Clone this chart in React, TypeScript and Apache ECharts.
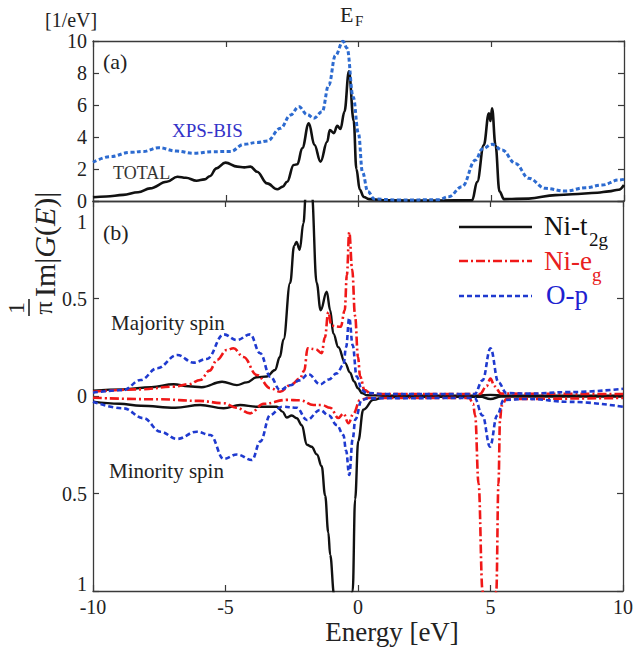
import React, { useEffect, useRef } from "react";
import * as echarts from "echarts";

const FONT = "Liberation Serif";

// Energy ticks
const xTicks = [-10, -5, 0, 5, 10];

// (a) total DOS and XPS-BIS  [E (eV), DOS (1/eV)]
const totalDos = [
  [-10, 0.23], [-9.5, 0.28], [-8.86, 0.38], [-8.3, 0.55], [-7.85, 0.79], [-7.22, 1.2], [-6.82, 1.52],
  [-6.5, 1.45], [-6.1, 1.27], [-5.8, 1.35], [-5.6, 1.55], [-5.35, 2.04], [-5.01, 2.4], [-4.57, 2.15],
  [-4.3, 2.1], [-4.07, 2.15], [-3.82, 1.83], [-3.44, 1.1], [-3.06, 0.73], [-2.85, 0.9], [-2.69, 1.2],
  [-2.44, 2.25], [-2.3, 2.3], [-2.12, 3.3], [-1.87, 4.86], [-1.66, 3.5], [-1.43, 2.46], [-1.18, 3.7],
  [-1.08, 4.44], [-0.93, 4.24], [-0.8, 4.7], [-0.68, 4.5], [-0.53, 5.58], [-0.36, 8.1], [-0.18, 5.0],
  [-0.08, 2.0], [0.05, 0.7], [0.2, 0.25], [0.39, 0.12], [1.1, 0.04], [3.0, 0.03], [4.28, 0.05],
  [4.47, 1.2], [4.72, 3.5], [4.91, 5.48], [4.97, 5.0], [5.03, 5.8], [5.16, 3.5], [5.31, 0.6],
  [5.48, 0.12], [6.41, 0.15], [7.42, 0.37], [8.05, 0.42], [9.0, 0.52], [9.43, 0.6], [9.8, 0.7], [10, 1.0],
];
const xpsBis = [
  [-10, 2.42], [-9.36, 2.77], [-8.6, 3.04], [-8.1, 3.1], [-7.54, 3.33], [-6.85, 3.12], [-6.2, 2.98],
  [-5.5, 3.08], [-4.82, 3.1], [-4.32, 3.54], [-3.82, 3.66], [-3.44, 3.75], [-2.94, 4.54], [-2.56, 5.37],
  [-2.25, 5.9], [-1.93, 5.4], [-1.68, 5.17], [-1.37, 5.58], [-1.12, 7.25], [-0.87, 9.1], [-0.58, 9.98],
  [-0.43, 9.54], [-0.2, 6.5], [0.0, 4.2], [0.15, 1.8], [0.35, 0.6], [0.6, 0.12], [1.5, 0.06],
  [3.02, 0.08], [3.4, 0.27], [3.9, 0.9], [4.41, 2.56], [4.66, 3.25], [5.03, 3.54], [5.41, 3.19],
  [5.91, 2.35], [6.41, 1.42], [7.04, 0.79], [7.8, 0.62], [8.55, 0.83], [9.18, 1.0], [9.8, 1.31], [10, 1.35],
];

// (b) partial DOS, majority (+) and minority (-) spin  [E, (1/pi) Im G(E)]
const t2gUp = [
  [-10, 0.027], [-8.86, 0.034], [-7.8, 0.045], [-6.96, 0.06], [-6.4, 0.05], [-5.9, 0.045], [-5.13, 0.073],
  [-4.57, 0.056], [-4.2, 0.07], [-3.82, 0.096], [-3.44, 0.1], [-3.13, 0.133], [-2.95, 0.2], [-2.81, 0.29],
  [-2.56, 0.58], [-2.41, 0.77], [-2.32, 0.79], [-2.2, 0.75], [-2.06, 0.886], [-1.96, 1.05], [-1.85, 1.25],
  [-1.75, 1.05], [-1.56, 0.58], [-1.41, 0.44], [-1.18, 0.535], [-1.05, 0.44], [-0.93, 0.32], [-0.74, 0.25],
  [-0.49, 0.17], [-0.3, 0.12], [-0.15, 0.075], [0.0, 0.04], [0.15, 0.015], [0.33, 0.004], [1, 0.002],
  [4.5, 0.002], [5.0, 0.006], [5.5, 0.002], [10, 0.002],
];
const t2gDown = [
  [-10, -0.029], [-9, -0.04], [-8.2, -0.05], [-6.9, -0.06], [-5.95, -0.046], [-5.07, -0.063], [-4.45, -0.046],
  [-3.82, -0.055], [-3.06, -0.055], [-2.85, -0.08], [-2.69, -0.11], [-2.5, -0.1], [-2.31, -0.114],
  [-2.12, -0.15], [-1.93, -0.25], [-1.75, -0.26], [-1.55, -0.3], [-1.37, -0.36], [-1.24, -0.51],
  [-1.12, -0.7], [-1.05, -0.815], [-0.9, -1.02], [-0.7, -1.3], [-0.45, -1.3], [-0.2, -1.0], [-0.11, -0.53],
  [0.01, -0.23], [0.2, -0.07], [0.58, -0.02], [1, -0.005], [4.6, -0.003], [5.0, -0.015], [5.4, -0.003], [10, -0.003],
];
const egUp = [
  [-10, 0.022], [-8.2, 0.034], [-6.96, 0.048], [-6.4, 0.06], [-5.95, 0.082], [-5.6, 0.13], [-5.32, 0.185],
  [-4.95, 0.236], [-4.7, 0.245], [-4.32, 0.2], [-3.82, 0.108], [-3.31, 0.04], [-2.94, 0.022], [-2.5, 0.06],
  [-2.19, 0.09], [-2.03, 0.13], [-1.9, 0.245], [-1.6, 0.24], [-1.37, 0.22], [-1.25, 0.3], [-1.12, 0.43],
  [-1.0, 0.36], [-0.65, 0.355], [-0.5, 0.44], [-0.42, 0.62], [-0.33, 0.84], [-0.22, 0.65], [-0.11, 0.41],
  [0.0, 0.2], [0.08, 0.1], [0.25, 0.03], [0.5, 0.012], [1, 0.01], [4.6, 0.01], [4.85, 0.05], [5.0, 0.09],
  [5.15, 0.05], [5.4, 0.012], [10, 0.01],
];
const egDown = [
  [-10, -0.009], [-7.5, -0.017], [-6, -0.025], [-5.07, -0.037], [-4.6, -0.06], [-4.07, -0.089], [-3.56, -0.04],
  [-2.69, -0.02], [-2.19, -0.022], [-1.68, -0.046], [-1.37, -0.046], [-1.05, -0.06], [-0.74, -0.113],
  [-0.55, -0.09], [-0.36, -0.14], [-0.17, -0.09], [0.08, -0.02], [0.4, -0.01], [4.2, -0.01], [4.34, -0.04],
  [4.42, -0.1], [4.55, -0.45], [4.7, -1.0], [4.85, -1.6], [5.05, -1.6], [5.22, -1.0], [5.3, -0.45],
  [5.36, -0.12], [5.42, -0.05], [5.6, -0.015], [10, -0.01],
];
const opUp = [
  [-10, 0.017], [-8.86, 0.03], [-8.2, 0.082], [-7.58, 0.142], [-6.82, 0.21], [-6.2, 0.171], [-5.7, 0.19],
  [-5.07, 0.316], [-4.57, 0.287], [-4.07, 0.316], [-3.69, 0.219], [-3.31, 0.099], [-2.94, 0.031],
  [-2.56, 0.055], [-2.2, 0.08], [-1.87, 0.112], [-1.43, 0.06], [-1.1, 0.085], [-0.8, 0.116], [-0.55, 0.159],
  [-0.45, 0.25], [-0.33, 0.4], [-0.2, 0.26], [-0.05, 0.1], [0.15, 0.03], [0.33, 0.015], [1, 0.01],
  [4.4, 0.01], [4.7, 0.08], [5.0, 0.245], [5.3, 0.07], [5.6, 0.015], [6.4, 0.012], [8, 0.02], [10, 0.037],
];
const opDown = [
  [-10, -0.029], [-8.86, -0.063], [-8.09, -0.114], [-7.46, -0.183], [-6.83, -0.22], [-6.08, -0.183],
  [-5.57, -0.2], [-5.07, -0.323], [-4.57, -0.3], [-4.0, -0.328], [-3.69, -0.234], [-3.31, -0.097],
  [-2.87, -0.055], [-2.31, -0.06], [-1.93, -0.123], [-1.43, -0.072], [-1.1, -0.1], [-0.8, -0.149],
  [-0.55, -0.2], [-0.45, -0.28], [-0.33, -0.405], [-0.2, -0.22], [-0.1, -0.12], [0.14, -0.02], [0.4, -0.012],
  [4.4, -0.01], [4.7, -0.1], [4.98, -0.26], [5.25, -0.1], [5.5, -0.02], [6.4, -0.015], [8, -0.03], [10, -0.055],
];

const BLACK = "#111111";
const RED = "#f01818";
const BLUE = "#1f3acf";
const XPS_BLUE = "#2d6bd0";
const AXIS = "#3a3a3a";

function App() {
  const ref = useRef<HTMLDivElement>(null);
  useEffect(() => {
    if (!ref.current) return;
    const chart = echarts.init(ref.current, null, { renderer: "svg" });
    const axisLine = { show: true, onZero: false, lineStyle: { color: AXIS, width: 1.3 } };
    const tick = { show: true, inside: true, length: 6, lineStyle: { color: AXIS, width: 1.2 } };
    const lbl = { fontFamily: FONT, fontSize: 20, color: "#222" };
    const xBase = { type: "value", min: -10, max: 10, interval: 5, splitLine: { show: false }, axisLine, axisTick: tick };
    const line = (name, data, color, type, width, x, y, z) => ({
      name, type: "line", data, xAxisIndex: x, yAxisIndex: y, showSymbol: false, symbol: "none",
      smooth: 0.4, smoothMonotone: "x", clip: true, z,
      lineStyle: { color, type, width },
    });
    const dashDot = [9, 3, 2, 3];
    const dash = [5, 3];
    const txt = (text, x, y, size, fill = "#222", align = "left") => ({
      type: "text", x, y, silent: true,
      style: { text, fontFamily: FONT, fontSize: size, fill, align, verticalAlign: "middle" },
    });
    const legLine = (y, color, type) => ({
      type: "line", shape: { x1: 459, y1: y, x2: 532, y2: y },
      style: { stroke: color, lineWidth: 2.6, lineDash: type },
    });
    chart.setOption({
      animation: false,
      backgroundColor: "#ffffff",
      grid: [
        { left: 93, top: 41, width: 531, height: 160 },
        { left: 93, top: 201, width: 531, height: 390 },
      ],
      xAxis: [
        { ...xBase, gridIndex: 0, position: "bottom", axisLabel: { show: false } },
        { ...xBase, gridIndex: 0, position: "top", axisLabel: { show: false } },
        {
          ...xBase, gridIndex: 1, position: "bottom",
          axisLabel: { ...lbl, margin: 6, formatter: (v) => (xTicks.includes(v) ? String(v) : "") },
        },
        { ...xBase, gridIndex: 1, position: "top", axisLabel: { show: false } },
      ],
      yAxis: [
        {
          type: "value", gridIndex: 0, min: 0, max: 10, interval: 2, position: "left",
          splitLine: { show: false }, axisLine, axisTick: tick, axisLabel: { ...lbl, margin: 6 },
        },
        {
          type: "value", gridIndex: 0, min: 0, max: 10, interval: 2, position: "right",
          splitLine: { show: false }, axisLine, axisTick: tick, axisLabel: { show: false },
        },
        {
          type: "value", gridIndex: 1, min: -1, max: 1, interval: 0.5, position: "left",
          splitLine: { show: false }, axisLine, axisTick: tick,
          axisLabel: {
            ...lbl, margin: 6,
            formatter: (v) => {
              if (v === 1) return "{t|1}";
              if (v === -1) return "{b|1}";
              return String(Math.abs(v));
            },
            rich: {
              t: { fontFamily: FONT, fontSize: 20, color: "#222", padding: [42, 0, 0, 0] },
              b: { fontFamily: FONT, fontSize: 20, color: "#222", padding: [0, 0, 14, 0] },
            },
          },
        },
        {
          type: "value", gridIndex: 1, min: -1, max: 1, interval: 0.5, position: "right",
          splitLine: { show: false }, axisLine, axisTick: tick, axisLabel: { show: false },
        },
      ],
      series: [
        line("TOTAL", totalDos, BLACK, "solid", 2.6, 0, 0, 3),
        line("XPS-BIS", xpsBis, XPS_BLUE, [4, 2.5], 3, 0, 0, 4),
        line("Ni-t2g up", t2gUp, BLACK, "solid", 2.4, 2, 2, 3),
        line("Ni-t2g down", t2gDown, BLACK, "solid", 2.4, 2, 2, 3),
        line("Ni-eg up", egUp, RED, dashDot, 2.6, 2, 2, 4),
        line("Ni-eg down", egDown, RED, dashDot, 2.6, 2, 2, 4),
        line("O-p up", opUp, BLUE, dash, 2.6, 2, 2, 5),
        line("O-p down", opDown, BLUE, dash, 2.6, 2, 2, 5),
      ],
      graphic: [
        txt("[1/eV]", 45, 20, 20),
        txt("E", 340, 14, 22),
        txt("F", 355, 21, 15),
        txt("(a)", 103, 61, 22),
        txt("(b)", 103, 232, 22),
        txt("XPS-BIS", 172, 130, 19, "#3333c8"),
        txt("TOTAL", 113, 173, 18, "#333"),
        txt("Majority spin", 111, 323, 21),
        txt("Minority spin", 109, 471, 21),
        legLine(227, BLACK, null),
        legLine(261, RED, dashDot),
        legLine(296, BLUE, dash),
        txt("Ni-t", 544, 226, 27, "#111"),
        txt("2g", 589, 239, 19, "#111"),
        txt("Ni-e", 544, 261, 27, "#e82020"),
        txt("g", 592, 274, 19, "#e82020"),
        txt("O-p", 546, 295, 27, "#2020d0"),
        txt("Energy [eV]", 392, 632, 27, "#222", "center"),
        {
          type: "group", x: 0, y: 316, rotation: Math.PI / 2,
          children: [
            txt("1", 8, 16, 24, "#222", "center"),
            { type: "line", shape: { x1: 0, y1: 29, x2: 17, y2: 29 }, style: { stroke: "#222", lineWidth: 1.6 } },
            txt("π", 8, 43, 26, "#222", "center"),
            {
              type: "text", x: 19, y: 44,
              style: {
                text: "{r|Im|}{i|G}{r|(}{i|E}{r|)|}",
                align: "left", verticalAlign: "middle", fill: "#222",
                rich: {
                  r: { fontFamily: FONT, fontSize: 30, fill: "#222" },
                  i: { fontFamily: FONT, fontSize: 30, fontStyle: "italic", fill: "#222" },
                },
              },
            },
          ],
        },
      ],
    });
    return () => chart.dispose();
  }, []);
  return (
    <div
      ref={ref}
      style={{ position: "fixed", left: 0, top: 0, width: 636, height: 652, background: "#fff" }}
    />
  );
}

export default App;
